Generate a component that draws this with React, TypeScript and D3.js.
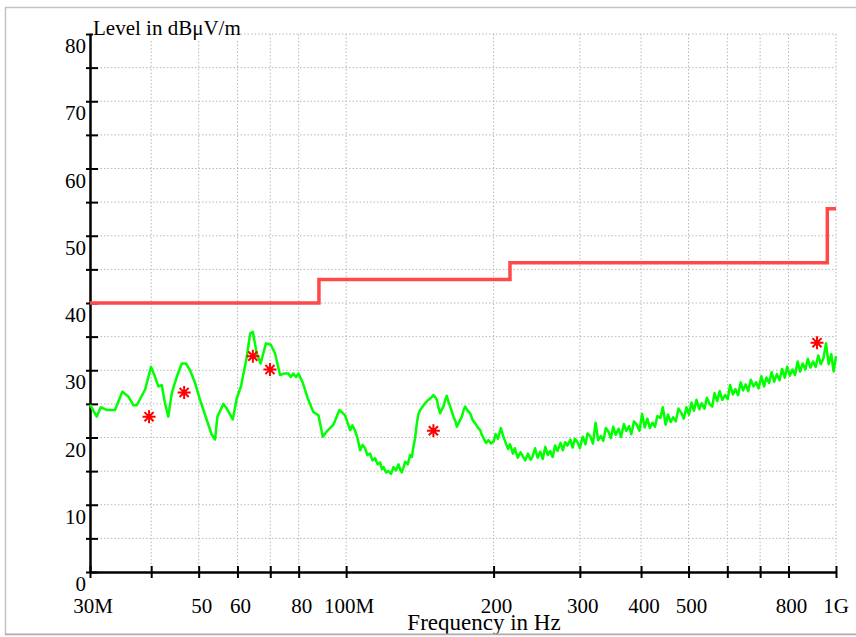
import React, { useRef, useEffect } from "react";
import * as d3 from "d3";

// limit line (step after each frequency), MHz / dBuV/m
const limitFreq = [30, 88, 216, 960, 1000];
const limitLevel = [40, 43.5, 46, 54, 54];

// final measurement markers
const markerFreq = [39.6, 46.7, 64.5, 69.9, 150.7, 914.7];
const markerLevel = [23.1, 26.7, 32.1, 30.1, 21.0, 34.1];

// preview scan, MHz
const scanFreq = [
  30, 30.96, 31.55, 32.45, 33.74, 34.92, 35.92, 36.78, 37.37, 38.86, 39.97, 40.73,
  41.36, 42.03, 42.69, 43.35, 44.06, 45.1, 46.18, 47.12, 48.02, 49.16, 50.33, 51.94,
  53.17, 54.0, 54.6, 56.15, 57.06, 58.7, 59.8, 61.0, 62.7, 63.7, 64.5, 65.7, 66.9,
  68.6, 70.2, 71.6, 73.3, 74.7, 76.2, 77.1, 78.0, 79.0, 79.9, 81.6, 83.7, 85.7, 87.8,
  89.6, 91.3, 94.2, 96.9, 99.5,
  101.9, 103.0, 104.3, 105.5, 106.8, 108.0, 109.3, 110.5, 111.9, 113.2, 114.6, 116.0,
  117.3, 118.3, 119.2, 120.6, 122.0, 123.5, 124.9, 126.4, 127.9, 129.0, 129.9, 131.0,
  132.0, 133.6, 135.1, 136.2, 137.2, 138.3, 139.4, 140.5, 141.6, 143.3, 145.0, 146.7,
  148.4, 149.5, 150.7, 152.0, 153.2, 154.4, 155.6, 156.8, 158.0, 159.3, 160.5, 161.8,
  163.1, 164.3, 165.6, 167.0, 168.3, 170.3, 172.3, 173.6, 175.0, 177.0, 179.1, 181.2,
  183.4, 185.6, 187.8, 189.2, 190.7, 193.0, 195.2, 197.5,
  200, 202, 204, 207, 209, 211, 214, 216, 219, 221, 224, 227, 229, 232, 235, 238, 240,
  243, 246, 249, 252, 255, 258, 261, 264, 267, 270, 274, 277, 280, 283, 287,
  290, 293, 297, 300, 304, 308, 311, 315, 319, 323, 327, 331, 335, 339, 343, 347, 351,
  355, 360, 364, 369, 373, 378, 382, 387, 392, 397, 402, 407, 412, 417, 422, 427, 432,
  438, 443, 449, 454, 460, 465, 471, 477, 483, 489, 495, 501, 507, 513, 519, 526, 532,
  539, 545, 552, 559, 565, 572, 579, 586, 594, 601, 608, 616, 623, 631, 639, 646, 654,
  662, 670, 679, 687, 695, 704, 713, 721, 730, 739, 748, 757, 767, 776, 786, 795, 805,
  815, 825, 835, 845, 855, 866, 876, 887, 898, 909, 920, 931, 943, 954, 966, 978, 989,
  1000,
];

// preview scan level, dBuV/m
const scanLevel = [
  24.9, 23.1, 24.5, 24.1, 24.1, 26.8, 26.1, 24.8, 24.8, 27.1, 30.5, 29.0,
  27.6, 27.8, 25.1, 23.1, 26.6, 29.0, 31.0, 31.0, 30.0, 28.1, 25.6, 22.6,
  20.4, 19.7, 23.1, 25.0, 24.3, 22.7, 25.8, 27.6, 32.0, 35.5, 35.7, 32.5, 31.0,
  34.0, 33.8, 32.5, 29.3, 29.5, 29.5, 29.0, 29.5, 29.0, 29.5, 28.1, 25.6, 23.8, 23.3,
  20.1, 20.9, 21.9, 24.1, 23.3,
  21.1, 21.8, 21.0, 19.9, 18.1, 18.9, 18.4, 17.4, 17.6, 16.6, 16.9, 16.0,
  16.3, 15.3, 15.6, 14.8, 15.0, 14.6, 15.6, 15.1, 16.0, 15.2, 14.8, 15.6,
  16.4, 16.0, 17.4, 17.1, 18.6, 19.9, 22.1, 23.5, 24.1, 24.6, 25.1, 25.5,
  25.8, 26.0, 26.3, 26.0, 25.6, 24.4, 23.6, 24.2, 24.6, 25.6, 26.2, 25.3,
  24.6, 23.9, 23.1, 22.5, 21.6, 22.4, 23.1, 24.0, 24.6, 24.0, 23.6, 22.6,
  22.1, 21.5, 21.1, 20.4, 19.9, 19.2, 19.6, 19.1,
  19.4, 20.5, 19.8, 21.4, 20.3, 19.5, 18.3, 19.0, 17.6, 18.4, 17.0, 17.8, 17.3, 16.6,
  17.6, 16.7, 17.1, 18.4, 17.0, 17.9, 16.8, 18.6, 17.4, 18.0, 17.1, 18.8, 18.0, 19.2,
  18.1, 19.3, 18.8, 19.7,
  18.5, 19.8, 19.3, 18.4, 20.1, 19.0, 20.6, 20.2, 19.1, 22.2, 19.6, 20.2, 19.5, 21.4,
  20.9, 19.9, 21.6, 20.4, 21.3, 20.1, 22.0, 21.0, 21.7, 20.5, 22.4, 21.9, 21.0, 23.5,
  21.5, 22.8, 21.4, 22.2, 21.6, 23.2, 22.9, 24.5, 21.9, 23.4, 22.3, 23.0, 22.4, 24.3,
  23.7, 22.8, 24.5, 23.4, 25.2, 24.0, 25.6, 24.2, 25.1, 24.3, 25.9, 25.0, 24.6, 26.6,
  25.4, 26.9, 25.6, 26.3, 25.7, 27.8, 26.4, 27.2, 26.3, 28.2, 27.0, 27.9, 26.9, 28.6,
  27.6, 28.2, 27.3, 29.1, 27.6, 28.9, 28.1, 29.7, 28.3, 29.4, 28.5, 30.2, 28.9, 30.5,
  29.2, 30.1, 29.3, 31.3, 29.8, 31.0, 30.1, 31.7, 30.4, 31.3, 30.5, 32.2, 30.9, 31.8,
  34.0, 30.9, 32.4, 29.8, 32.1,
];

const xTickValues = [30, 40, 50, 60, 70, 80, 100, 200, 300, 400, 500, 600, 700, 800, 1000];
const xTickLabels = ["30M", "", "50", "60", "", "80", "100M", "200", "300", "400", "500", "", "", "800", "1G"];
const yTickValues = [0, 5, 10, 15, 20, 25, 30, 35, 40, 45, 50, 55, 60, 65, 70, 75, 80];
const yTickLabels = ["0", "", "10", "", "20", "", "30", "", "40", "", "50", "", "60", "", "70", "", "80"];

const FONT = "'Liberation Serif', 'Times New Roman', serif";

const App = () => {
  const svgRef = useRef<SVGSVGElement>(null);

  useEffect(() => {
    const svg = d3.select(svgRef.current);
    svg.selectAll("*").remove();

    const width = 856;
    const height = 637;
    const plot = { left: 90, right: 836, top: 34, bottom: 572 };

    const x = d3.scaleLog().domain([30, 1000]).range([plot.left, plot.right]);
    const y = d3.scaleLinear().domain([0, 80]).range([plot.bottom, plot.top]);

    svg.append("rect").attr("width", width).attr("height", height).attr("fill", "white");

    // outer frame
    svg
      .append("rect")
      .attr("x", 5.5)
      .attr("y", 7.5)
      .attr("width", width)
      .attr("height", 627)
      .attr("fill", "none")
      .attr("stroke", "#c4c4c4")
      .attr("stroke-width", 1.5);

    // grid
    const grid = svg.append("g").attr("stroke", "#b8b8b8").attr("stroke-width", 1).attr("stroke-dasharray", "1.5,2");
    grid
      .selectAll("line.h")
      .data(yTickValues.filter((d) => d > 0))
      .join("line")
      .attr("x1", plot.left)
      .attr("x2", plot.right)
      .attr("y1", (d) => y(d))
      .attr("y2", (d) => y(d));
    grid
      .selectAll("line.v")
      .data(xTickValues.filter((d) => d > 30))
      .join("line")
      .attr("x1", (d) => x(d))
      .attr("x2", (d) => x(d))
      .attr("y1", plot.top)
      .attr("y2", plot.bottom);

    // x axis
    const xAxis = svg
      .append("g")
      .attr("transform", `translate(0,${plot.bottom})`)
      .call(d3.axisBottom(x).tickValues(xTickValues).tickFormat(() => "").tickSizeOuter(0));
    xAxis.select(".domain").attr("stroke", "black").attr("stroke-width", 2.5);
    xAxis.selectAll(".tick line").attr("y1", -6).attr("y2", 6).attr("stroke", "black").attr("stroke-width", 2);

    // y axis
    const yAxis = svg
      .append("g")
      .attr("transform", `translate(${plot.left},0)`)
      .call(d3.axisLeft(y).tickValues(yTickValues).tickFormat(() => "").tickSizeOuter(0));
    yAxis.select(".domain").attr("stroke", "black").attr("stroke-width", 2.5);
    yAxis.selectAll(".tick line").attr("x1", -4).attr("x2", 8).attr("stroke", "black").attr("stroke-width", 2);

    // tick labels
    svg
      .append("g")
      .selectAll("text")
      .data(xTickValues.map((v, i) => ({ v, label: xTickLabels[i] })).filter((d) => d.label))
      .join("text")
      .attr("x", (d) => x(d.v) + (d.v === 1000 ? 0 : 3))
      .attr("y", 613)
      .attr("text-anchor", "middle")
      .style("font-family", FONT)
      .style("font-size", "21px")
      .text((d) => d.label);

    svg
      .append("g")
      .selectAll("text")
      .data(yTickValues.map((v, i) => ({ v, label: yTickLabels[i] })).filter((d) => d.label))
      .join("text")
      .attr("x", 86)
      .attr("y", (d) => y(d.v) + 19)
      .attr("text-anchor", "end")
      .style("font-family", FONT)
      .style("font-size", "21px")
      .text((d) => d.label);

    // limit line
    const limitLine = d3
      .line<number>()
      .x((d, i) => x(limitFreq[i]))
      .y((d) => y(d))
      .curve(d3.curveStepAfter);
    svg
      .append("path")
      .datum(limitLevel)
      .attr("fill", "none")
      .attr("stroke", "#ff4848")
      .attr("stroke-width", 3.5)
      .attr("d", limitLine);

    // preview scan
    const scanLine = d3
      .line<number>()
      .x((d, i) => x(scanFreq[i]))
      .y((d) => y(d));
    svg
      .append("path")
      .datum(scanLevel)
      .attr("fill", "none")
      .attr("stroke", "#00ff00")
      .attr("stroke-width", 2.5)
      .attr("stroke-linejoin", "round")
      .attr("d", scanLine);

    // markers (asterisks)
    const r = 6.5;
    const star = `M0,${-r}V${r}M${-r},0H${r}M${-r * 0.7},${-r * 0.7}L${r * 0.7},${r * 0.7}M${-r * 0.7},${r * 0.7}L${r * 0.7},${-r * 0.7}`;
    svg
      .append("g")
      .selectAll("path")
      .data(markerFreq.map((f, i) => ({ f, l: markerLevel[i] })))
      .join("path")
      .attr("transform", (d) => `translate(${x(d.f)},${y(d.l)})`)
      .attr("d", star)
      .attr("stroke", "#ff0000")
      .attr("stroke-width", 2)
      .attr("fill", "none");

    // axis titles
    const yTitle = svg
      .append("text")
      .attr("x", 93)
      .attr("y", 35)
      .style("font-family", FONT)
      .style("font-size", "21px")
      .text("Level in dBμV/m");
    const bb = (yTitle.node() as SVGTextElement).getBBox();
    svg
      .insert("rect", () => yTitle.node())
      .attr("x", bb.x)
      .attr("y", bb.y)
      .attr("width", bb.width)
      .attr("height", bb.height)
      .attr("fill", "white");

    svg
      .append("text")
      .attr("x", 484)
      .attr("y", 630)
      .attr("text-anchor", "middle")
      .style("font-family", FONT)
      .style("font-size", "23px")
      .text("Frequency in Hz");

    // bottom frame edge drawn over the title
    svg
      .append("line")
      .attr("x1", 5)
      .attr("x2", width)
      .attr("y1", 634.5)
      .attr("y2", 634.5)
      .attr("stroke", "#b0b0b0")
      .attr("stroke-width", 2);
    svg
      .append("rect")
      .attr("x", 0)
      .attr("y", 635.5)
      .attr("width", width)
      .attr("height", 2)
      .attr("fill", "white");
  }, []);

  return (
    <svg
      ref={svgRef}
      width={856}
      height={637}
      style={{ position: "absolute", left: 0, top: 0, display: "block" }}
    ></svg>
  );
};

export default App;
